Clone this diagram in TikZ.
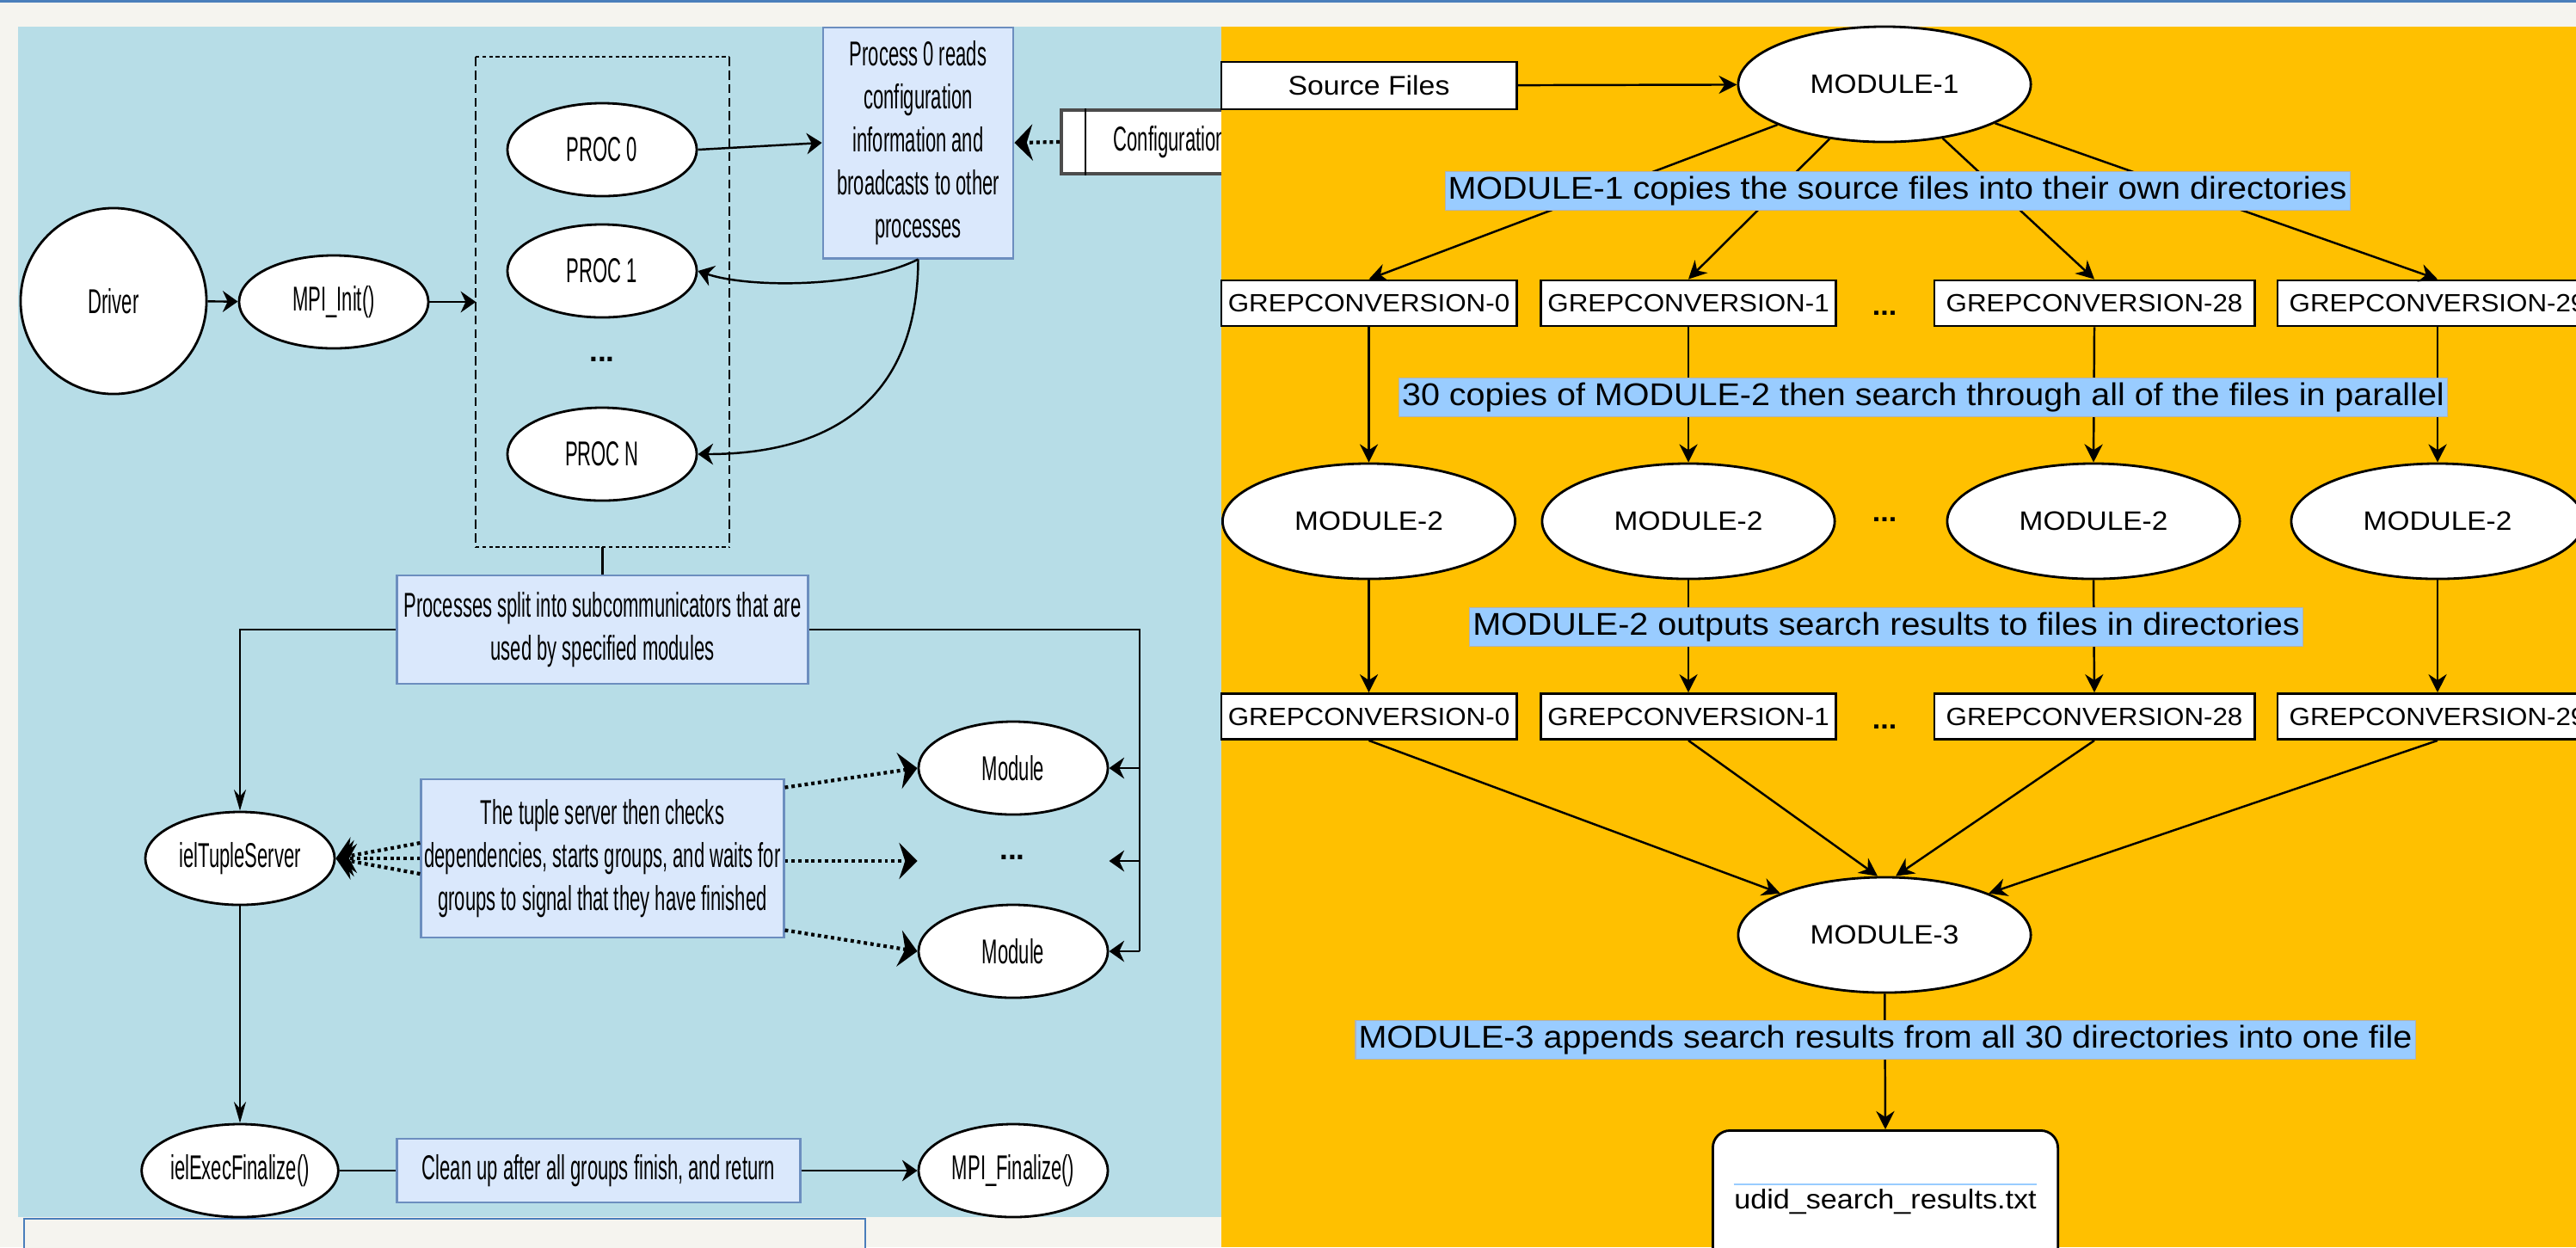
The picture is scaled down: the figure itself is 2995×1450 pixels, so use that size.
\documentclass[tikz,border=0pt]{standalone}
\usepackage{fontspec}
\setmainfont{Liberation Sans}
\newfontfamily\narrowfont[FakeStretch=0.55]{Liberation Sans}
\newfontfamily\widefont[FakeStretch=1.08]{Liberation Sans}
\usepackage{tikz}
\usetikzlibrary{arrows.meta, shapes.geometric, calc}
\pgfdeclarelayer{bg}
\pgfsetlayers{bg,main}
\definecolor{pagebg}{HTML}{F5F4EF}
\definecolor{topline}{HTML}{4A7EBB}
\definecolor{leftbg}{HTML}{B7DDE7}
\definecolor{rightbg}{HTML}{FFC000}
\definecolor{notefill}{HTML}{DAE8FC}
\definecolor{notedraw}{HTML}{6C8EBF}
\definecolor{hilite}{HTML}{99CCFF}

\begin{document}
\begin{tikzpicture}[x=0.01cm, y=-0.01cm,
    every node/.style={inner sep=0pt},
    leftfont/.style={font=\narrowfont\fontsize{11.4}{14.2}\selectfont},
    oval/.style={ellipse, draw, line width=0.8pt, fill=white, minimum width=2.2cm, minimum height=1.08cm, leftfont},
    note/.style={draw=notedraw, line width=0.8pt, fill=notefill, align=center, leftfont},
    conn/.style={line width=0.7pt},
    hto/.style={-{Stealth[length=5pt, width=7pt]}},
    vto/.style={-{Stealth[length=7pt, width=4pt]}},
    rto/.style={-{Stealth[length=6pt, width=6pt]}},
    dotto/.style={line width=1.2pt, dash pattern=on 1.1pt off 1.1pt, -{Stealth[length=6pt, width=12pt]}},
    hdash/.style={line width=0.6pt, dash pattern=on 1.2pt off 1pt},
    vdash/.style={line width=0.6pt, dash pattern=on 3pt off 1.5pt},
    bigoval/.style={ellipse, draw, line width=0.8pt, fill=white, minimum width=3.4cm, minimum height=1.34cm, font=\widefont\fontsize{8.8}{10}\selectfont},
    filebox/.style={draw, line width=0.8pt, fill=white, minimum width=3.43cm, minimum height=0.55cm, font=\widefont\fontsize{8.9}{10}\selectfont},
    grepbox/.style={draw, line width=0.8pt, fill=white, minimum width=3.43cm, minimum height=0.53cm, font=\widefont\fontsize{8.25}{9}\selectfont},
    rdots/.style={font=\widefont\fontsize{9}{10}\selectfont\bfseries},
    tag/.style={fill=hilite, draw=gray!60, line width=0.3pt, inner xsep=1pt, minimum height=0.45cm, font=\widefont\fontsize{10.4}{12}\selectfont}
  ]
    \useasboundingbox (0,0) rectangle (2995,1450);
    \clip (0,0) rectangle (2995,1450);

    \begin{pgfonlayer}{bg}    % page, both panels, and the box hidden by the orange panel
        \fill [pagebg] (0,0) rectangle (2995,1450);
        \fill [topline] (0,0) rectangle (2995,3);
        \fill [leftbg] (21,31) rectangle (1420,1415);
        \draw [topline, fill=pagebg, line width=0.6pt] (28,1417) rectangle (1006,1490);
        \node [draw=black!70, line width=1pt, fill=white, anchor=west, minimum height=0.74cm,
               text width=1.6cm, inner xsep=0.61cm, leftfont] (config) at (1232,165) {Configuration};
        \draw [line width=0.7pt] ($(config.north west)+(30,0)$) -- ($(config.south west)+(30,0)$);
        \fill [rightbg] (1420,31) rectangle (2995,1450);
    \end{pgfonlayer}

    % MPI side
    \node [oval, circle, minimum size=2.16cm] (driver) at (132,350) {Driver};
    \node [oval] (mpiinit) at (388,351) {MPI\_Init()};
    \node [minimum width=2.93cm, minimum height=5.68cm] (procs) at (700.5,351) {};
    \node [oval] (proc0) at (700,174) {PROC 0};
    \node [oval] (proc1) at (700,315) {PROC 1};
    \node [leftfont, font=\bfseries] (procdots) at (700,418) {...};
    \node [oval] (procn) at (700,528) {PROC N};
    \node [note, minimum width=2.21cm, minimum height=2.68cm] (bcast) at (1067.5,166)
        {Process 0 reads\\configuration\\information and\\broadcasts to other\\processes};
    \node [note, minimum width=4.77cm, minimum height=1.26cm] (split) at (700.5,732)
        {Processes split into subcommunicators that are\\used by specified modules};
    \node [oval] (tuplesrv) at (279,998) {ielTupleServer};
    \node [note, minimum width=4.21cm, minimum height=1.84cm] (tuplenote) at (700.5,998)
        {The tuple server then checks\\dependencies, starts groups, and waits for\\groups to signal that they have finished};
    \node [oval] (moda) at (1178,893) {Module};
    \node [leftfont, font=\bfseries] (moddots) at (1177,997) {...};
    \node [oval] (modb) at (1178,1106) {Module};
    \node [oval] (execfin) at (279,1361) {ielExecFinalize()};
    \node [note, minimum width=4.68cm, minimum height=0.74cm] (cleanup) at (696,1361)
        {Clean up after all groups finish, and return};
    \node [oval] (mpifin) at (1178,1361) {MPI\_Finalize()};
    \coordinate (bus) at (1325,1106);

    \draw [hdash] (procs.north west) -- (procs.north east) (procs.south west) -- (procs.south east);
    \draw [vdash] (procs.north west) -- (procs.south west) (procs.north east) -- (procs.south east);

    \draw [conn, hto] (driver) -- (mpiinit);
    \draw [conn, hto] (mpiinit) -- (procs.west);
    \draw [conn, hto] (proc0.east) -- (bcast.west);
    \draw [conn, hto] (bcast.south) .. controls (1000,335) and (870,335) .. (proc1.east);
    \draw [conn, hto] (bcast.south) .. controls (1067,470) and (960,528) .. (procn.east);
    \draw [dotto] (config.west) -- (bcast.east);
    \draw [conn] (procs.south) -- (split.north);
    \draw [conn, vto] (split.west) -| (tuplesrv.north);
    \draw [conn] (split.east) -| (bus);
    \draw [conn, hto] (bus |- moda) -- (moda.east);
    \draw [conn, hto] (bus |- 0,1001) -- (moda.east |- 0,1001);
    \draw [conn, hto] (bus) -- (modb.east);
    \draw [dotto] ($(tuplenote.north east)+(0,11)$) -- (moda.west);
    \draw [dotto] (tuplenote.east |- 0,1001) -- (moda.west |- 0,1001);
    \draw [dotto] ($(tuplenote.south east)+(0,-10)$) -- (modb.west);
    \draw [dotto] ($(tuplenote.west)+(0,-18)$) -- (tuplesrv.east);
    \draw [dotto] (tuplenote.west) -- (tuplesrv.east);
    \draw [dotto] ($(tuplenote.west)+(0,18)$) -- (tuplesrv.east);
    \draw [conn, vto] (tuplesrv) -- (execfin);
    \draw [conn] (execfin) -- (cleanup);
    \draw [conn, hto] (cleanup) -- (mpifin);

    % search side
    \node [filebox] (src) at (1591.5,99.5) {Source Files};
    \node [bigoval] (mod1) at (2191,98) {MODULE-1};
    \node [grepbox] (grepa0) at (1591.5,352.5) {GREPCONVERSION-0};
    \node [grepbox] (grepa1) at (1963,352.5) {GREPCONVERSION-1};
    \node [rdots] (dotsa) at (2191,364) {...};
    \node [grepbox, minimum width=3.72cm] (grepa28) at (2435,352.5) {GREPCONVERSION-28};
    \node [grepbox, minimum width=3.72cm] (grepa29) at (2834,352.5) {GREPCONVERSION-29};
    \node [bigoval] (mtwoa) at (1591.5,606) {MODULE-2};
    \node [bigoval] (mtwob) at (1963,606) {MODULE-2};
    \node [rdots] (dotsb) at (2191,604) {...};
    \node [bigoval] (mtwoc) at (2434,606) {MODULE-2};
    \node [bigoval] (mtwod) at (2834,606) {MODULE-2};
    \node [grepbox] (grepb0) at (1591.5,833) {GREPCONVERSION-0};
    \node [grepbox] (grepb1) at (1963,833) {GREPCONVERSION-1};
    \node [rdots] (dotsc) at (2191,845) {...};
    \node [grepbox, minimum width=3.72cm] (grepb28) at (2435,833) {GREPCONVERSION-28};
    \node [grepbox, minimum width=3.72cm] (grepb29) at (2834,833) {GREPCONVERSION-29};
    \node [bigoval] (mod3) at (2191,1087) {MODULE-3};
    \node [draw, line width=0.8pt, fill=white, rounded corners=0.2cm, minimum width=4.01cm,
           minimum height=2.4cm, anchor=north] (results) at (2192,1313) {};
    \node [anchor=base, font=\widefont\fontsize{9}{10}\selectfont] (resname) at (2192,1405) {udid\_search\_results.txt};
    \draw [hilite, line width=0.6pt] ($(resname.north west)+(0,-4)$) -- ($(resname.north east)+(0,-4)$);

    \draw [conn, rto] (src) -- (mod1);
    \draw [conn, rto] (mod1) -- (grepa0.north);
    \draw [conn, rto] (mod1) -- (grepa1.north);
    \draw [conn, rto] (mod1) -- (grepa28.north);
    \draw [conn, rto] (mod1) -- (grepa29.north);
    \draw [conn, rto] (grepa0) -- (mtwoa);
    \draw [conn, rto] (grepa1) -- (mtwob);
    \draw [conn, rto] (grepa28.south) -- (mtwoc.north);
    \draw [conn, rto] (grepa29) -- (mtwod);
    \draw [conn, rto] (mtwoa) -- (grepb0);
    \draw [conn, rto] (mtwob) -- (grepb1);
    \draw [conn, rto] (mtwoc.south) -- (grepb28.north);
    \draw [conn, rto] (mtwod) -- (grepb29);
    \draw [conn, rto] (grepb0.south) -- (mod3.north west);
    \draw [conn, rto] (grepb1.south) -- ($(mod3.north)+(-8,0)$);
    \draw [conn, rto] (grepb28.south) -- ($(mod3.north)+(13,0)$);
    \draw [conn, rto] (grepb29.south) -- (mod3.north east);
    \draw [conn, rto] (mod3) -- (results.north);

    \node [tag] (tagone) at (2206,222) {MODULE-1 copies the source files into their own directories};
    \node [tag] (tagtwo) at (2236,462) {30 copies of MODULE-2 then search through all of the files in parallel};
    \node [tag] (tagthree) at (2193,729) {MODULE-2 outputs search results to files in directories};
    \node [tag] (tagfour) at (2192,1209) {MODULE-3 appends search results from all 30 directories into one file};
\end{tikzpicture}
\end{document}
